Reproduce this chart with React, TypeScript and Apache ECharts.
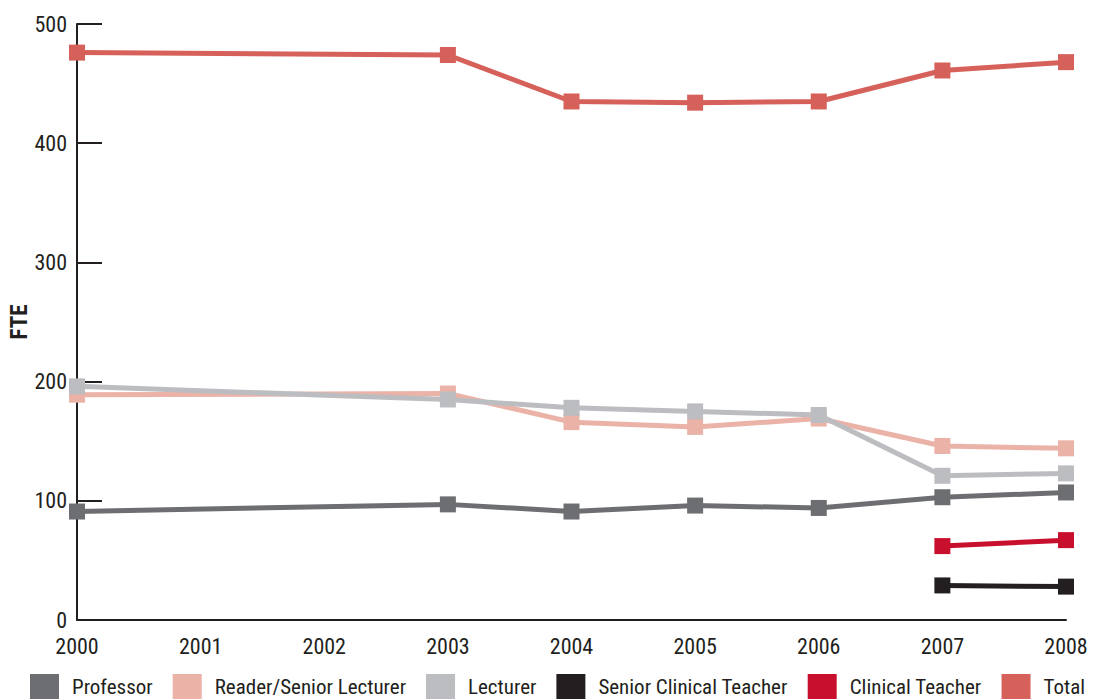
import React, { useEffect, useRef } from "react";
import * as echarts from "echarts";

const years = ["2000", "2001", "2002", "2003", "2004", "2005", "2006", "2007", "2008"];
const professor = [91, null, null, 97, 91, 96, 94, 103, 107];
const readerSeniorLecturer = [189, null, null, 190, 166, 162, 169, 146, 144];
const lecturer = [196, null, null, 185, 178, 175, 172, 121, 123];
const seniorClinicalTeacher = [null, null, null, null, null, null, null, 29, 28];
const clinicalTeacher = [null, null, null, null, null, null, null, 62, 67];
const total = [476, null, null, 474, 435, 434, 435, 461, 468];

const FONT = "'Roboto Condensed', 'Liberation Sans Narrow', sans-serif";

const seriesDefs = [
  { name: "Professor", data: professor, color: "#6d6e71" },
  { name: "Reader/Senior Lecturer", data: readerSeniorLecturer, color: "#ebb2a7" },
  { name: "Lecturer", data: lecturer, color: "#bcbdc0" },
  { name: "Senior Clinical Teacher", data: seniorClinicalTeacher, color: "#231f20" },
  { name: "Clinical Teacher", data: clinicalTeacher, color: "#c8102e" },
  { name: "Total", data: total, color: "#d6605a" },
];

export default function App() {
  const ref = useRef<HTMLDivElement>(null);
  useEffect(() => {
    if (!ref.current) return;
    const chart = echarts.init(ref.current, null, { renderer: "svg" });
    chart.setOption({
      animation: false,
      backgroundColor: "#ffffff",
      grid: { left: 77, right: 35, top: 24, bottom: 79, containLabel: false, outerBoundsMode: "none" },
      legend: {
        left: 30,
        top: 674,
        width: 1070,
        padding: 0,
        itemWidth: 29,
        itemHeight: 26,
        itemGap: 20,
        icon: "rect",
        textStyle: { fontFamily: FONT, fontSize: 21, color: "#231f20", padding: [0, 0, 0, 8] },
        data: seriesDefs.map((s) => s.name),
      },
      xAxis: {
        type: "category",
        data: years,
        boundaryGap: false,
        axisLine: { lineStyle: { color: "#231f20", width: 2 } },
        axisTick: { show: false },
        axisLabel: { fontFamily: FONT, fontSize: 22, color: "#231f20", margin: 15 },
        splitLine: { show: false },
      },
      yAxis: {
        type: "value",
        min: 0,
        max: 500,
        interval: 100,
        name: "FTE",
        nameLocation: "middle",
        nameGap: 46,
        nameMoveOverlap: false,
        nameTextStyle: { fontFamily: FONT, fontSize: 23, fontWeight: "bold", color: "#231f20" },
        axisLine: { show: true, lineStyle: { color: "#231f20", width: 2 } },
        axisTick: { show: true, inside: true, length: 25, lineStyle: { color: "#231f20", width: 2 } },
        axisLabel: { fontFamily: FONT, fontSize: 22, color: "#231f20", margin: 10 },
        splitLine: { show: false },
      },
      series: seriesDefs.map((s) => ({
        name: s.name,
        type: "line",
        data: s.data,
        connectNulls: true,
        color: s.color,
        symbol: "rect",
        symbolSize: 16,
        showAllSymbol: true,
        lineStyle: { width: 5, color: s.color },
        itemStyle: { color: s.color },
      })),
    });
    return () => chart.dispose();
  }, []);
  return <div ref={ref} style={{ width: 1101, height: 699, position: "absolute", left: 0, top: 0 }} />;
}
